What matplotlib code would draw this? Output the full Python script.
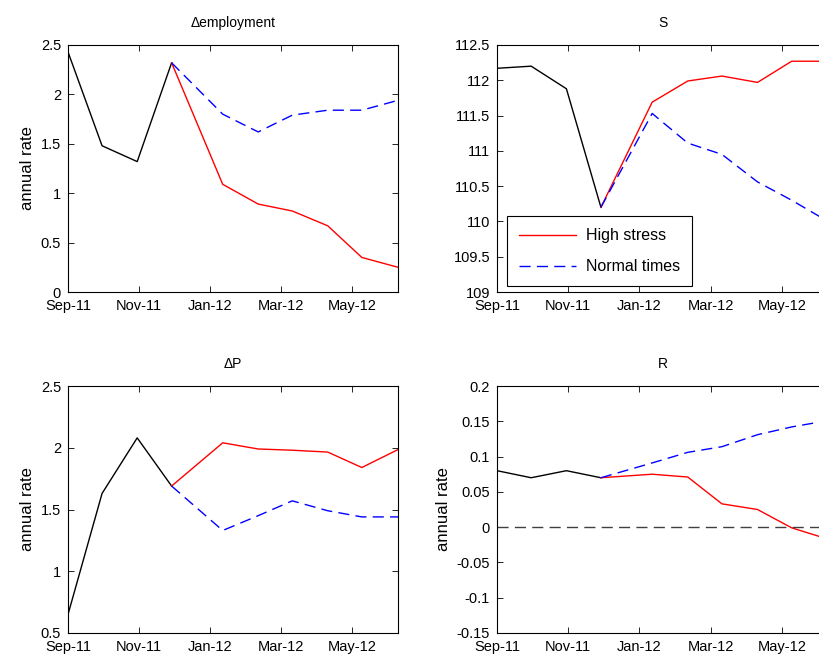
import matplotlib
matplotlib.use("Agg")
import matplotlib.pyplot as plt
from matplotlib.ticker import FuncFormatter

plt.rcParams['font.family'] = ['Liberation Sans', 'DejaVu Sans']
plt.rcParams['font.size'] = 10.5

# x positions in months after Sep-11
hist_x = [0, 0.96, 1.95, 2.92]
fcst_x = [2.92, 4.36, 5.36, 6.32, 7.32, 8.28, 9.3]
tick_pos = [0, 2, 4, 6, 8]
tick_labels = ["Sep-11", "Nov-11", "Jan-12", "Mar-12", "May-12"]

emp_hist = [2.43, 1.48, 1.32, 2.32]
emp_high = [2.32, 1.09, 0.89, 0.82, 0.67, 0.35, 0.25]
emp_normal = [2.32, 1.80, 1.62, 1.79, 1.84, 1.84, 1.94]

s_hist = [112.17, 112.2, 111.88, 110.2]
s_high = [110.2, 111.69, 111.99, 112.06, 111.97, 112.27, 112.27]
s_normal = [110.2, 111.53, 111.11, 110.95, 110.56, 110.30, 110.0]

p_hist = [0.65, 1.63, 2.08, 1.69]
p_high = [1.69, 2.04, 1.99, 1.98, 1.965, 1.84, 1.985]
p_normal = [1.69, 1.33, 1.45, 1.57, 1.49, 1.44, 1.44]

r_hist = [0.08, 0.07, 0.08, 0.07]
r_high = [0.07, 0.075, 0.071, 0.033, 0.025, -0.001, -0.017]
r_normal = [0.07, 0.091, 0.106, 0.114, 0.131, 0.142, 0.151]

fig = plt.figure(figsize=(8.2, 6.58), dpi=100)

W, H = 820, 658
def add_ax(x0, y_top, w, h):
    return fig.add_axes([x0 / W, (H - y_top - h) / H, w / W, h / H])

panels = [
    (add_ax(68, 45, 330, 247), "\u0394employment", emp_hist, emp_high, emp_normal,
     (0, 2.5), [0, 0.5, 1, 1.5, 2, 2.5], True),
    (add_ax(497, 45, 331, 247), "S", s_hist, s_high, s_normal,
     (109, 112.5), [109, 109.5, 110, 110.5, 111, 111.5, 112, 112.5], False),
    (add_ax(68, 386, 330, 247), "\u0394P", p_hist, p_high, p_normal,
     (0.5, 2.5), [0.5, 1, 1.5, 2, 2.5], True),
    (add_ax(497, 386, 331, 247), "R", r_hist, r_high, r_normal,
     (-0.15, 0.2), [-0.15, -0.1, -0.05, 0, 0.05, 0.1, 0.15, 0.2], True),
]

for ax, title, hist, high, normal, ylim, yticks, ylab in panels:
    ax.plot(hist_x, hist, color="black", lw=1.0)
    h1, = ax.plot(fcst_x, high, color="red", lw=1.0, label="High stress")
    h2, = ax.plot(fcst_x, normal, color="blue", lw=1.0, dashes=(8, 4.5), label="Normal times")
    ax.set_xlim(0, 9.3)
    ax.set_ylim(*ylim)
    ax.set_xticks(tick_pos)
    ax.set_xticklabels(tick_labels)
    ax.set_yticks(yticks)
    ax.yaxis.set_major_formatter(FuncFormatter(lambda v, p: "%g" % round(v, 4)))
    ax.tick_params(direction="in", top=True, right=True, length=4, width=0.6)
    ax.tick_params(axis="x", pad=5)
    ax.tick_params(axis="y", pad=5)
    for sp in ax.spines.values():
        sp.set_linewidth(0.8)
    ax.set_title(title, pad=13, fontsize=10)
    if ylab:
        ax.set_ylabel("annual rate", fontsize=12, labelpad=4)
    if title == "R":
        ax.axhline(0, color="#404040", lw=1.0, dashes=(8, 4.5))
    if title == "S":
        leg = ax.legend(handles=[h1, h2], loc="lower left", bbox_to_anchor=(0.03, 0.024),
                        borderaxespad=0, fancybox=False, edgecolor="black",
                        framealpha=1, handlelength=3.6, labelspacing=1.0,
                        borderpad=0.75, handletextpad=0.6, fontsize=11.5)
        leg.get_frame().set_linewidth(0.8)

fig.savefig("out.png", dpi=100)
